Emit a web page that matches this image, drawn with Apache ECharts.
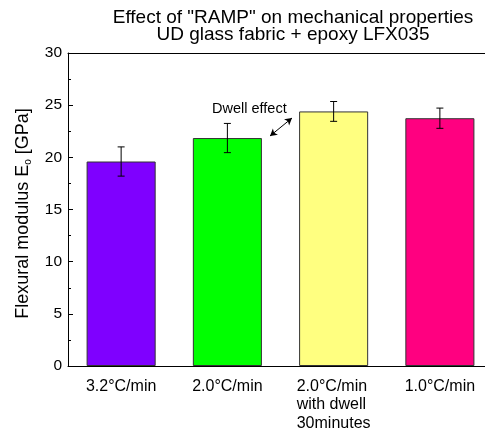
<!DOCTYPE html>
<html>
<head>
<meta charset="utf-8">
<script src="https://cdn.jsdelivr.net/npm/echarts@6/dist/echarts.min.js"></script>
<style>
html,body{margin:0;padding:0;background:#fff;overflow:hidden;}
#chart{width:495px;height:434px;}
</style>
</head>
<body>
<div id="chart"></div>
<script>
var categories = ['3.2°C/min', '2.0°C/min', '2.0°C/min\nwith dwell\n30minutes', '1.0°C/min'];
var modulus = [19.6, 21.85, 24.4, 23.75];
var errors = [1.4, 1.4, 0.95, 0.97];
var barColors = ['#7F00FF', '#00FF00', '#FFFF80', '#FF0080'];
var yTicks = [0, 5, 10, 15, 20, 25, 30];

var FONT = 'Liberation Sans, Arial, sans-serif';
var chart = echarts.init(document.getElementById('chart'), null, {renderer: 'canvas'});

var barData = modulus.map(function (v, i) {
  return {value: v, itemStyle: {color: barColors[i]}};
});
var errData = modulus.map(function (v, i) {
  return [i, v - errors[i], v + errors[i]];
});

var option = {
  backgroundColor: '#ffffff',
  animation: false,
  title: {
    text: 'Effect of "RAMP" on mechanical properties\nUD glass fabric + epoxy LFX035',
    left: 288,
    textAlign: 'center',
    top: 4,
    textStyle: {fontFamily: FONT, fontSize: 19, fontWeight: 'normal', color: '#000', lineHeight: 17.5}
  },
  grid: {left: 68, right: 2, top: 53, bottom: 68, containLabel: false, show: false},
  xAxis: [{
    type: 'category',
    data: categories,
    axisLine: {show: true, lineStyle: {color: '#000', width: 1}},
    axisTick: {show: false},
    axisLabel: {
      fontFamily: FONT, fontSize: 16, color: '#000', margin: 11, interval: 0,
      lineHeight: 18.5,
      formatter: function (v) {
        return v.split('\n').map(function (s) { return '{l|' + s + '}'; }).join('\n');
      },
      rich: {l: {align: 'left', fontFamily: FONT, fontSize: 16, color: '#000', lineHeight: 18.5}}
    }
  }, {
    type: 'category',
    position: 'top',
    data: categories,
    axisLine: {show: true, lineStyle: {color: '#000', width: 1}},
    axisTick: {show: false},
    axisLabel: {show: false}
  }],
  yAxis: {
    type: 'value',
    min: yTicks[0],
    max: yTicks[yTicks.length - 1],
    interval: 5,
    axisLine: {show: true, lineStyle: {color: '#000', width: 1}},
    axisTick: {show: true, inside: true, length: 5, lineStyle: {color: '#000'}},
    minorTick: {show: true, splitNumber: 2, length: 3, lineStyle: {color: '#000'}},
    splitLine: {show: false},
    axisLabel: {fontFamily: FONT, fontSize: 15.5, color: '#000', margin: 6},
    name: 'Flexural modulus E{sub|o} [GPa]',
    nameLocation: 'middle',
    nameRotate: 90,
    nameGap: 35,
    nameTextStyle: {
      fontFamily: FONT, fontSize: 18, color: '#000', lineHeight: 20,
      padding: [0, 8, 0, 0],
      rich: {sub: {fontFamily: FONT, fontSize: 10, color: '#000', verticalAlign: 'bottom', lineHeight: 20, padding: [8, 0, 0, 0]}}
    }
  },
  series: [{
    type: 'bar',
    data: barData,
    barWidth: '65%',
    itemStyle: {borderColor: '#333', borderWidth: 1},
    markLine: {
      silent: true,
      symbol: ['arrow', 'arrow'],
      symbolSize: [6, 7],
      lineStyle: {color: '#000', width: 1, type: 'solid'},
      label: {show: false},
      data: [[{x: 270, y: 136}, {x: 292, y: 118}]]
    }
  }, {
    type: 'custom',
    data: errData,
    renderItem: function (params, api) {
      var lo = api.coord([api.value(0), api.value(1)]);
      var hi = api.coord([api.value(0), api.value(2)]);
      var hw = 3.5;
      var st = {stroke: '#000', lineWidth: 1};
      return {
        type: 'group',
        children: [
          {type: 'line', shape: {x1: lo[0], y1: lo[1], x2: hi[0], y2: hi[1]}, style: st},
          {type: 'line', shape: {x1: lo[0] - hw, y1: lo[1], x2: lo[0] + hw, y2: lo[1]}, style: st},
          {type: 'line', shape: {x1: hi[0] - hw, y1: hi[1], x2: hi[0] + hw, y2: hi[1]}, style: st}
        ]
      };
    },
    z: 5
  }],
  graphic: [{
    type: 'text',
    left: 212,
    top: 101,
    style: {text: 'Dwell effect', fontFamily: FONT, fontSize: 14.5, fill: '#000'}
  }]
};
chart.setOption(option);
</script>
</body>
</html>
